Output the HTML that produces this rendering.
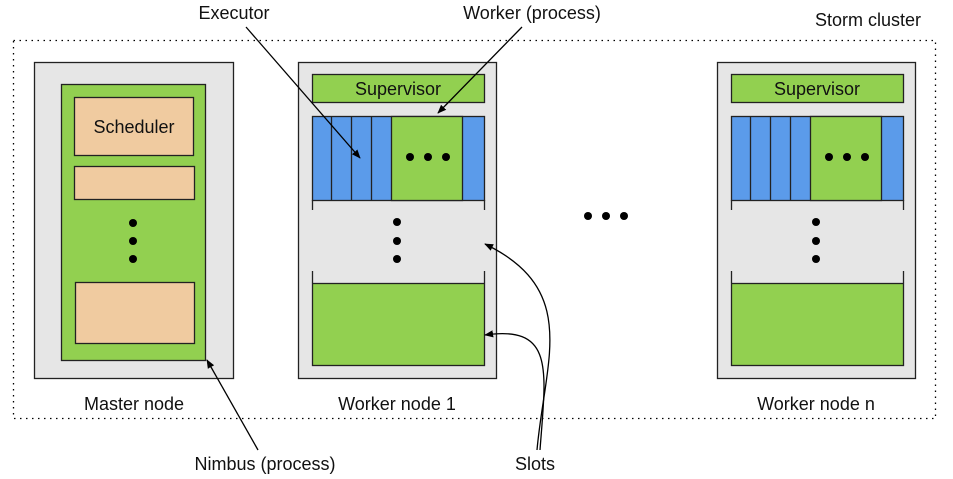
<!DOCTYPE html>
<html><head><meta charset="utf-8"><style>
html,body{margin:0;padding:0;background:#fff;}
svg{display:block;}
text{font-family:"Liberation Sans",sans-serif;font-weight:normal;fill:#111;}
</style></head><body>
<svg width="953" height="479" viewBox="0 0 953 479" xmlns="http://www.w3.org/2000/svg">
<defs>
<marker id="ah" viewBox="0 0 10 10" refX="9" refY="5" markerWidth="9" markerHeight="9" orient="auto" markerUnits="userSpaceOnUse">
<path d="M0,1 L10,5 L0,9 z" fill="#000"/>
</marker>
</defs>
<rect x="13.5" y="40.5" width="922" height="378" fill="none" stroke="#000" stroke-width="1.3" stroke-dasharray="1.5 4.5"/>

<rect x="34.5" y="62.5" width="199" height="316" fill="#e6e6e6" stroke="#222" stroke-width="1.3"/>
<rect x="61.5" y="84.5" width="144" height="276" fill="#92d050" stroke="#222" stroke-width="1.3"/>
<rect x="74.5" y="97.5" width="119" height="58" fill="#f0cba0" stroke="#222" stroke-width="1.3"/>
<rect x="74.5" y="166.5" width="120" height="33" fill="#f0cba0" stroke="#222" stroke-width="1.3"/>
<rect x="75.5" y="282.5" width="119" height="61" fill="#f0cba0" stroke="#222" stroke-width="1.3"/>
<text x="134" y="133" font-size="18" text-anchor="middle">Scheduler</text>
<circle cx="133" cy="223" r="4"/><circle cx="133" cy="241" r="4"/><circle cx="133" cy="259" r="4"/>
<text x="134" y="410" font-size="18" text-anchor="middle">Master node</text>

<g id="w">
<rect x="298.5" y="62.5" width="198" height="316" fill="#e6e6e6" stroke="#222" stroke-width="1.3"/>
<rect x="312.5" y="74.5" width="172" height="28" fill="#92d050" stroke="#222" stroke-width="1.3"/>
<text x="398" y="95" font-size="18" text-anchor="middle">Supervisor</text>
<rect x="312.5" y="116.5" width="172" height="84" fill="#5b9bea" stroke="#222" stroke-width="1.3"/>
<rect x="391.5" y="116.5" width="71" height="84" fill="#92d050" stroke="#222" stroke-width="1.3"/>
<line x1="331.5" y1="116" x2="331.5" y2="200" stroke="#222" stroke-width="1.3"/>
<line x1="351.5" y1="116" x2="351.5" y2="200" stroke="#222" stroke-width="1.3"/>
<line x1="371.5" y1="116" x2="371.5" y2="200" stroke="#222" stroke-width="1.3"/>
<circle cx="410" cy="157" r="4"/><circle cx="428" cy="157" r="4"/><circle cx="446" cy="157" r="4"/>
<path d="M312.5,200 V210 M484.5,200 V210 M312.5,271 V283 M484.5,271 V283" stroke="#222" stroke-width="1.3"/>
<circle cx="397" cy="222" r="4"/><circle cx="397" cy="241" r="4"/><circle cx="397" cy="259" r="4"/>
<rect x="312.5" y="283.5" width="172" height="82" fill="#92d050" stroke="#222" stroke-width="1.3"/>
</g>
<text x="397" y="410" font-size="18" text-anchor="middle">Worker node 1</text>

<use href="#w" transform="translate(419,0)"/>
<text x="816" y="410" font-size="18" text-anchor="middle">Worker node n</text>

<circle cx="588" cy="216" r="4"/><circle cx="606" cy="216" r="4"/><circle cx="624" cy="216" r="4"/>

<text x="234" y="19" font-size="18" text-anchor="middle">Executor</text>
<text x="532" y="19" font-size="18" text-anchor="middle">Worker (process)</text>
<text x="868" y="26" font-size="18" text-anchor="middle">Storm cluster</text>
<text x="265" y="470" font-size="18" text-anchor="middle">Nimbus (process)</text>
<text x="535" y="470" font-size="18" text-anchor="middle">Slots</text>

<line x1="246" y1="27" x2="360" y2="158" stroke="#000" stroke-width="1.3" marker-end="url(#ah)"/>
<line x1="522" y1="27" x2="438" y2="113" stroke="#000" stroke-width="1.3" marker-end="url(#ah)"/>
<line x1="258" y1="450" x2="207" y2="360" stroke="#000" stroke-width="1.3" marker-end="url(#ah)"/>
<path d="M537,450 C545,360 580,290 485,244" fill="none" stroke="#000" stroke-width="1.3" marker-end="url(#ah)"/>
<path d="M540,450 C546,370 555,325 485,335" fill="none" stroke="#000" stroke-width="1.3" marker-end="url(#ah)"/>
</svg>
</body></html>
